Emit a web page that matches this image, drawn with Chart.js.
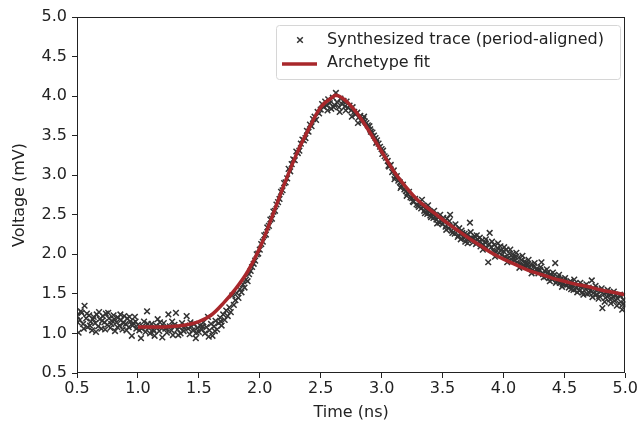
<!DOCTYPE html>
<html lang="en">
<head>
    <meta charset="UTF-8">
    <title>Archetype fit</title>
    <script src="https://cdn.jsdelivr.net/npm/chart.js"></script>
    <style>
        html, body { margin: 0; padding: 0; background: #fff; }
        #wrap { width: 639px; height: 429px; }
    </style>
</head>
<body>
    <div id="wrap"><canvas id="traceChart" width="639" height="429"></canvas></div>

    <script>
        // sampled trace, [time ns, voltage mV]
        const tracePoints = [
            [0.501,1.22],[0.513,1.01],[0.524,1.17],[0.538,1.26],[0.550,1.12],[0.562,1.35],[0.575,1.19],[0.587,1.08],
            [0.600,1.23],[0.612,1.15],[0.624,1.04],[0.637,1.21],[0.650,1.13],[0.662,1.24],[0.674,1.09],[0.687,1.18],
            [0.700,1.06],[0.712,1.22],[0.725,1.14],[0.737,1.25],[0.749,1.11],[0.762,1.19],[0.774,1.07],[0.787,1.16],
            [0.800,1.23],[0.812,1.03],[0.824,1.14],[0.837,1.20],[0.850,1.10],[0.862,1.17],[0.874,1.05],[0.887,1.22],
            [0.900,1.12],[0.912,1.19],[0.924,1.08],[0.937,1.15],[0.950,0.97],[0.962,1.13],[0.975,1.21],[0.987,1.06],
            [1.000,1.11],[1.012,1.04],[1.025,0.94],[1.037,1.09],[1.050,1.15],[1.062,1.02],[1.075,1.28],[1.087,1.07],
            [1.100,1.00],[1.112,1.12],[1.125,1.05],[1.137,0.97],[1.150,1.10],[1.162,1.18],[1.175,1.03],[1.187,1.08],
            [1.200,0.95],[1.212,1.13],[1.225,1.06],[1.237,1.01],[1.250,1.24],[1.262,1.09],[1.275,1.04],[1.287,0.98],
            [1.300,1.11],[1.312,1.26],[1.325,1.05],[1.337,1.08],[1.350,1.00],[1.362,1.13],[1.375,1.03],[1.387,1.10],
            [1.400,1.22],[1.412,1.06],[1.425,0.99],[1.437,1.09],[1.450,1.04],[1.462,1.12],[1.475,0.94],[1.487,1.07],
            [1.500,1.02],[1.512,1.10],[1.525,1.05],[1.537,1.14],[1.550,1.00],[1.562,1.08],[1.575,1.21],[1.587,1.04],
            [1.600,1.12],[1.612,0.97],[1.625,1.09],[1.637,1.16],[1.650,1.05],[1.662,1.13],[1.675,1.20],[1.687,1.10],
            [1.700,1.24],[1.712,1.17],[1.725,1.29],[1.737,1.22],[1.750,1.33],[1.762,1.27],[1.775,1.48],[1.787,1.36],
            [1.800,1.42],[1.812,1.51],[1.825,1.45],[1.837,1.56],[1.850,1.52],[1.862,1.62],[1.875,1.58],[1.887,1.68],
            [1.900,1.66],[1.912,1.75],[1.925,1.79],[1.937,1.84],[1.950,1.88],[1.962,1.92],[1.975,2.00],[1.987,2.01],
            [2.000,2.06],[2.012,2.13],[2.025,2.16],[2.037,2.24],[2.050,2.25],[2.062,2.34],[2.075,2.36],[2.087,2.44],
            [2.100,2.45],[2.112,2.54],[2.125,2.55],[2.137,2.63],[2.150,2.66],[2.162,2.70],[2.175,2.79],[2.187,2.81],
            [2.200,2.90],[2.212,2.91],[2.225,2.96],[2.237,3.08],[2.250,3.05],[2.262,3.14],[2.275,3.20],[2.287,3.19],
            [2.300,3.30],[2.312,3.28],[2.325,3.31],[2.337,3.40],[2.350,3.45],[2.362,3.44],[2.375,3.47],[2.387,3.56],
            [2.400,3.55],[2.412,3.64],[2.425,3.62],[2.437,3.71],[2.450,3.74],[2.462,3.70],[2.475,3.80],[2.487,3.78],
            [2.500,3.83],[2.512,3.90],[2.525,3.86],[2.537,3.93],[2.550,3.88],[2.562,3.96],[2.575,3.91],[2.587,3.84],
            [2.600,3.98],[2.612,3.89],[2.625,4.04],[2.637,3.92],[2.650,3.86],[2.662,3.97],[2.675,3.90],[2.687,3.94],
            [2.700,3.87],[2.712,3.93],[2.725,3.85],[2.737,3.88],[2.750,3.82],[2.762,3.86],[2.775,3.80],[2.787,3.77],
            [2.800,3.79],[2.812,3.73],[2.825,3.75],[2.837,3.68],[2.850,3.71],[2.862,3.68],[2.875,3.66],[2.887,3.63],
            [2.900,3.62],[2.912,3.55],[2.925,3.54],[2.937,3.50],[2.950,3.47],[2.962,3.44],[2.975,3.40],[2.987,3.36],
            [3.000,3.33],[3.012,3.31],[3.025,3.24],[3.037,3.22],[3.050,3.18],[3.062,3.11],[3.075,3.13],[3.087,3.04],
            [3.100,3.06],[3.112,2.98],[3.125,2.99],[3.137,2.93],[3.150,2.91],[3.162,2.86],[3.175,2.88],[3.187,2.82],
            [3.200,2.80],[3.212,2.77],[3.225,2.79],[3.237,2.72],[3.250,2.71],[3.262,2.66],[3.275,2.70],[3.287,2.63],
            [3.300,2.62],[3.312,2.66],[3.325,2.58],[3.337,2.61],[3.350,2.55],[3.362,2.57],[3.375,2.51],[3.387,2.54],
            [3.400,2.49],[3.412,2.52],[3.425,2.46],[3.437,2.48],[3.450,2.44],[3.462,2.47],[3.475,2.40],[3.487,2.43],
            [3.500,2.38],[3.512,2.41],[3.525,2.35],[3.537,2.45],[3.550,2.33],[3.562,2.50],[3.575,2.30],[3.587,2.36],
            [3.600,2.26],[3.612,2.31],[3.625,2.22],[3.637,2.33],[3.650,2.19],[3.662,2.27],[3.675,2.21],[3.687,2.16],
            [3.700,2.25],[3.712,2.18],[3.725,2.40],[3.737,2.21],[3.750,2.15],[3.762,2.23],[3.775,2.13],[3.787,2.19],
            [3.800,2.16],[3.812,2.10],[3.825,2.18],[3.837,2.12],[3.850,2.15],[3.862,2.08],[3.875,1.90],[3.887,2.27],
            [3.900,2.09],[3.912,2.05],[3.925,2.12],[3.937,2.03],[3.950,2.08],[3.962,2.02],[3.975,2.10],[3.987,1.99],
            [4.000,2.04],[4.012,1.97],[4.025,2.06],[4.037,1.95],[4.050,2.01],[4.062,1.94],[4.075,2.00],[4.087,1.92],
            [4.100,1.97],[4.112,1.90],[4.125,1.96],[4.137,1.88],[4.150,1.93],[4.162,1.86],[4.175,1.91],[4.187,1.84],
            [4.200,1.88],[4.212,1.83],[4.225,1.87],[4.237,1.80],[4.250,1.85],[4.262,1.78],[4.275,1.82],[4.287,1.76],
            [4.300,1.80],[4.312,1.90],[4.325,1.75],[4.337,1.79],[4.350,1.72],[4.362,1.77],[4.375,1.70],[4.387,1.75],
            [4.400,1.68],[4.412,1.73],[4.425,1.89],[4.437,1.66],[4.450,1.71],[4.462,1.64],[4.475,1.69],[4.487,1.62],
            [4.500,1.67],[4.512,1.61],[4.525,1.64],[4.537,1.58],[4.550,1.66],[4.562,1.60],[4.575,1.55],[4.587,1.63],
            [4.600,1.57],[4.612,1.61],[4.625,1.54],[4.637,1.59],[4.650,1.52],[4.662,1.60],[4.675,1.56],[4.687,1.50],
            [4.700,1.58],[4.712,1.54],[4.725,1.67],[4.737,1.51],[4.750,1.56],[4.762,1.49],[4.775,1.55],[4.787,1.47],
            [4.800,1.53],[4.812,1.32],[4.825,1.50],[4.837,1.45],[4.850,1.52],[4.862,1.48],[4.875,1.43],[4.887,1.50],
            [4.900,1.46],[4.912,1.41],[4.925,1.48],[4.937,1.44],[4.950,1.38],[4.962,1.47],[4.975,1.30],[4.987,1.42],
            [4.998,1.36],
            // second pass of the same trace (period-aligned overlap)
            [0.506,1.14],[0.531,1.28],[0.556,1.06],[0.581,1.25],[0.606,1.10],[0.631,1.18],[0.656,1.02],[0.681,1.27],
            [0.706,1.16],[0.731,1.05],[0.756,1.26],[0.781,1.12],[0.806,1.18],[0.831,1.08],[0.856,1.24],[0.881,1.13],
            [0.906,1.04],[0.931,1.21],[0.956,1.10],[0.981,1.15],[1.031,1.06],[1.081,1.12],[1.131,1.03],[1.181,1.14],
            [1.231,1.07],[1.281,1.15],[1.331,0.98],[1.381,1.07],[1.431,1.14],[1.481,1.01],[1.531,1.09],[1.581,0.96],
            [1.631,1.03],[1.681,1.15],
            [2.556,3.82],[2.606,3.86],[2.656,3.80],[2.706,3.82],[2.756,3.74],[2.806,3.66],[2.856,3.74],[2.906,3.58],
            [2.956,3.41],[3.006,3.27],[3.056,3.12],[3.106,2.95],[3.156,2.84],[3.206,2.74],[3.256,2.67],
            [3.306,2.60],[3.331,2.69],[3.356,2.52],[3.381,2.62],[3.406,2.47],[3.431,2.55],[3.456,2.39],[3.481,2.50],
            [3.506,2.46],[3.531,2.31],[3.556,2.42],[3.581,2.27],[3.606,2.38],[3.631,2.24],[3.656,2.30],[3.681,2.26],
            [3.706,2.14],[3.731,2.28],[3.756,2.20],[3.781,2.24],[3.806,2.21],[3.831,2.06],[3.856,2.19],[3.881,2.13],
            [3.906,2.16],[3.931,1.97],[3.956,2.14],[3.981,2.05],[4.006,2.09],[4.031,1.90],[4.056,2.06],[4.081,1.96],
            [4.106,2.02],[4.131,1.83],[4.156,1.98],[4.181,1.88],[4.206,1.93],[4.231,1.76],[4.256,1.89],[4.281,1.79],
            [4.306,1.84],[4.331,1.71],[4.356,1.81],[4.381,1.66],[4.406,1.77],[4.431,1.64],[4.456,1.74],[4.481,1.59],
            [4.506,1.70],[4.531,1.62],[4.556,1.56],[4.581,1.68],[4.606,1.52],[4.631,1.64],[4.656,1.49],[4.681,1.62],
            [4.706,1.51],[4.731,1.46],[4.756,1.60],[4.781,1.44],[4.806,1.57],[4.831,1.40],[4.856,1.55],[4.881,1.38],
            [4.906,1.53],[4.931,1.35],[4.956,1.49],[4.981,1.37]
        ];

        // fitted archetype curve
        const fitTimes = [1.0, 1.1, 1.2, 1.3, 1.4, 1.5, 1.6, 1.7, 1.8, 1.9,
                          2.0, 2.1, 2.2, 2.3, 2.4, 2.5, 2.6, 2.62, 2.7, 2.8, 2.9,
                          3.0, 3.1, 3.2, 3.3, 3.4, 3.5, 3.6, 3.7, 3.8, 3.9,
                          4.0, 4.1, 4.2, 4.3, 4.4, 4.5, 4.6, 4.7, 4.8, 4.9, 5.0];
        const fitVolts = [1.08, 1.08, 1.08, 1.09, 1.11, 1.15, 1.23, 1.38, 1.56, 1.78,
                          2.08, 2.47, 2.88, 3.26, 3.58, 3.86, 3.99, 4.01, 3.95, 3.78, 3.55,
                          3.30, 3.05, 2.85, 2.68, 2.56, 2.44, 2.33, 2.22, 2.12, 2.02,
                          1.94, 1.87, 1.80, 1.75, 1.70, 1.66, 1.62, 1.59, 1.55, 1.52, 1.49];

        const tickValues = [0.5, 1.0, 1.5, 2.0, 2.5, 3.0, 3.5, 4.0, 4.5, 5.0];
        const legendLabels = ['Synthesized trace (period-aligned)', 'Archetype fit'];

        const traceColor = '#333333';
        const fitColor = '#a8272b';
        const textColor = '#222222';

        Chart.defaults.font.family = "'DejaVu Sans', sans-serif";
        Chart.defaults.font.size = 16;
        Chart.defaults.color = textColor;

        // all four spines plus the boxed legend in the upper right
        const frameAndLegend = {
            id: 'frameAndLegend',
            afterDraw(chart) {
                const { ctx, chartArea: a } = chart;
                ctx.save();
                ctx.strokeStyle = textColor;
                ctx.lineWidth = 1;
                ctx.strokeRect(Math.round(a.left) + 0.5, Math.round(a.top) + 0.5,
                               Math.round(a.width) - 1, Math.round(a.height) - 1);

                const bx = 276, by = 25, bw = 344, bh = 54, r = 3;
                ctx.beginPath();
                ctx.roundRect(bx + 0.5, by + 0.5, bw, bh, r);
                ctx.fillStyle = 'rgba(255,255,255,0.85)';
                ctx.fill();
                ctx.strokeStyle = '#d6d6d6';
                ctx.stroke();

                // marker entry
                ctx.strokeStyle = traceColor;
                ctx.lineWidth = 1.5;
                const mx = 300, my = 40, s = 2.8;
                ctx.beginPath();
                ctx.moveTo(mx - s, my - s); ctx.lineTo(mx + s, my + s);
                ctx.moveTo(mx - s, my + s); ctx.lineTo(mx + s, my - s);
                ctx.stroke();

                // line entry
                ctx.strokeStyle = fitColor;
                ctx.lineWidth = 3.5;
                ctx.beginPath();
                ctx.moveTo(282, 64); ctx.lineTo(317, 64);
                ctx.stroke();

                ctx.fillStyle = textColor;
                ctx.font = "16px 'DejaVu Sans', sans-serif";
                ctx.textBaseline = 'middle';
                ctx.fillText(legendLabels[0], 327, 40);
                ctx.fillText(legendLabels[1], 327, 63);
                ctx.restore();
            }
        };

        const axisCommon = {
            type: 'linear',
            min: 0.5,
            max: 5.0,
            afterBuildTicks: (scale) => { scale.ticks = tickValues.map(v => ({ value: v })); },
            grid: { drawOnChartArea: false, drawTicks: true, tickLength: 5, tickColor: textColor, tickWidth: 1 },
            border: { display: false }
        };

        new Chart(document.getElementById('traceChart'), {
            type: 'scatter',
            data: {
                datasets: [
                    {
                        label: legendLabels[1],
                        type: 'line',
                        data: fitTimes.map((t, i) => ({ x: t, y: fitVolts[i] })),
                        borderColor: fitColor,
                        borderWidth: 3.5,
                        pointRadius: 0,
                        fill: false,
                        cubicInterpolationMode: 'monotone',
                        order: 0
                    },
                    {
                        label: legendLabels[0],
                        data: tracePoints.map(p => ({ x: p[0], y: p[1] })),
                        pointStyle: 'crossRot',
                        pointRadius: 4,
                        borderColor: traceColor,
                        backgroundColor: traceColor,
                        borderWidth: 1.5,
                        order: 1
                    }
                ]
            },
            options: {
                responsive: false,
                animation: false,
                events: [],
                layout: { padding: { left: 6, right: 11, top: 17, bottom: 0 } },
                plugins: { legend: { display: false }, tooltip: { enabled: false } },
                scales: {
                    x: {
                        ...axisCommon,
                        position: 'bottom',
                        ticks: { padding: 1, maxRotation: 0, autoSkip: false, callback: v => v.toFixed(1) },
                        title: { display: true, text: 'Time (ns)', padding: { top: 0, bottom: 7 } },
                        afterFit: (scale) => { scale.height = 56; }
                    },
                    y: {
                        ...axisCommon,
                        position: 'left',
                        ticks: { padding: 5, autoSkip: false, callback: v => v.toFixed(1) },
                        title: { display: true, text: 'Voltage (mV)', padding: { top: 4, bottom: 0 } },
                        afterFit: (scale) => { scale.width = 71; }
                    }
                }
            },
            plugins: [frameAndLegend]
        });
    </script>
</body>
</html>
